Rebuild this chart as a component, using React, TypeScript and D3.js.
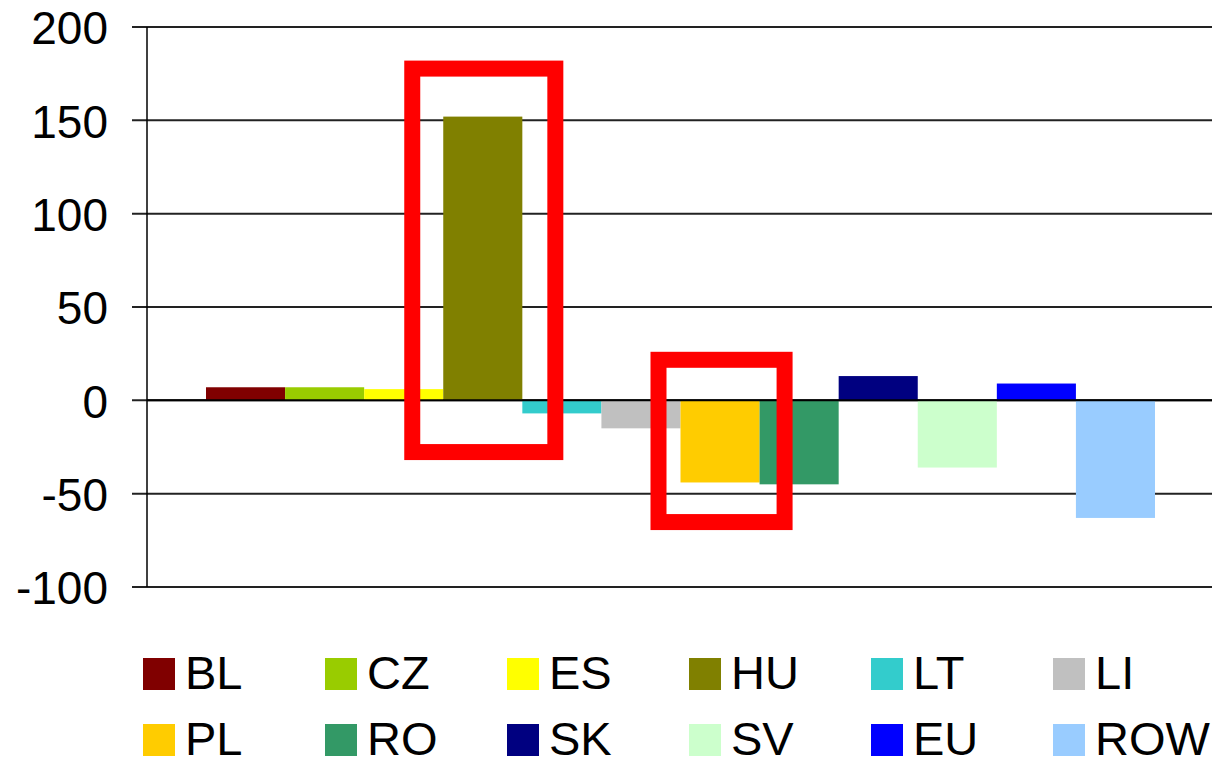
import React, { useEffect } from 'react';
import * as d3 from 'd3';

const series = ['BL', 'CZ', 'ES', 'HU', 'LT', 'LI', 'PL', 'RO', 'SK', 'SV', 'EU', 'ROW'];
const values = [7, 7, 6, 152, -7, -15, -44, -45, 13, -36, 9, -63];
const colors = ['#800000', '#99cc00', '#ffff00', '#808000', '#33cccc', '#c0c0c0',
  '#ffcc00', '#339966', '#000080', '#ccffcc', '#0000ff', '#99ccff'];
const yTicks = [-100, -50, 0, 50, 100, 150, 200];
// annotated series: the red boxes go round these
const highlightA = ['HU'];
const highlightB = ['PL', 'RO'];

const width = 1212;
const height = 759;
const marginLeft = 147;
const marginTop = 27;
const plotBottom = 587;
const font = 'Arial, "Liberation Sans", sans-serif';

const App = () => {
  useEffect(() => {
    document.body.style.margin = '0';
  }, []);

  const x = d3.scaleBand().domain(series).range([206, 1155]).padding(0);
  const y = d3.scaleLinear().domain([-100, 200]).range([plotBottom, marginTop]);
  const bw = x.bandwidth();

  // outer edges of the red annotation boxes
  const boxA = {
    x0: (x(highlightA[0]) ?? 0) - 39,
    x1: (x(highlightA[highlightA.length - 1]) ?? 0) + bw + 41,
    y0: y(182),
    y1: y(-32),
  };
  const boxB = {
    x0: (x(highlightB[0]) ?? 0) - 30,
    x1: (x(highlightB[highlightB.length - 1]) ?? 0) + 33,
    y0: y(26),
    y1: y(-69.5),
  };

  const legendCols = 6;
  const colW = 182;

  return (
    <svg width={width} height={height} style={{ display: 'block', background: '#fff' }}
      fontFamily={font}>
      {yTicks.map(t => (
        <g key={t}>
          <line x1={132} x2={width} y1={y(t)} y2={y(t)} stroke="#222" strokeWidth={2} />
          <text x={108} y={y(t)} dy="0.38em" textAnchor="end" fontSize={46} fill="#000">{t}</text>
        </g>
      ))}
      <line x1={marginLeft} x2={marginLeft} y1={y(200)} y2={y(-100)} stroke="#000" strokeWidth={1.5} />

      {series.map((s, i) => (
        <rect key={s} x={x(s)} width={bw}
          y={y(Math.max(0, values[i]))}
          height={Math.abs(y(values[i]) - y(0))}
          fill={colors[i]} />
      ))}
      <line x1={marginLeft} x2={width} y1={y(0)} y2={y(0)} stroke="#000" strokeWidth={2} />

      {[boxA, boxB].map((b, i) => (
        <rect key={i} x={b.x0 + 8} y={b.y0 + 8} width={b.x1 - b.x0 - 16} height={b.y1 - b.y0 - 16}
          fill="none" stroke="#ff0000" strokeWidth={16} />
      ))}

      {series.map((s, i) => {
        const col = i % legendCols;
        const row = Math.floor(i / legendCols);
        const lx = 143 + col * colW;
        const ly = 658 + row * 66;
        return (
          <g key={s}>
            <rect x={lx} y={ly} width={32} height={32} fill={colors[i]} />
            <text x={lx + 42} y={ly + 31} fontSize={47} fill="#000">{s}</text>
          </g>
        );
      })}
    </svg>
  );
};

export default App;
